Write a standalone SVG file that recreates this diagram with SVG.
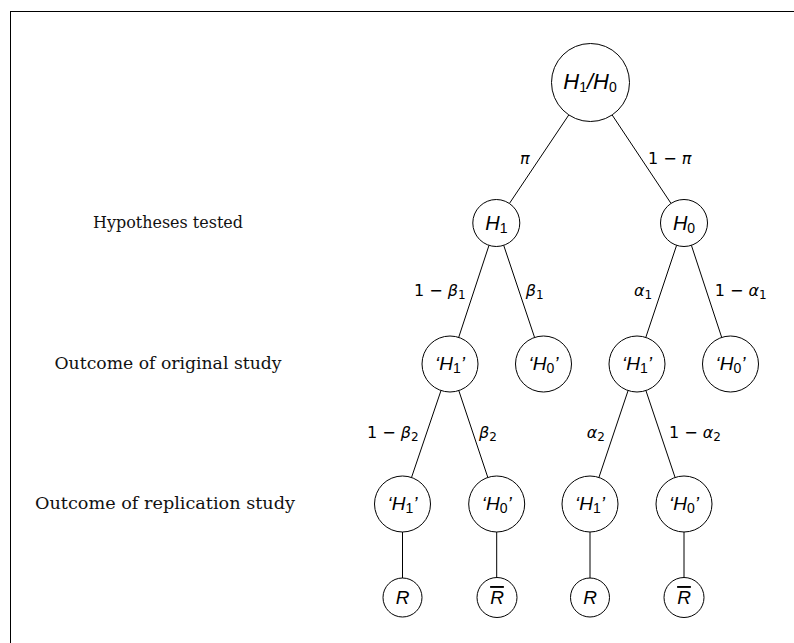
<svg xmlns="http://www.w3.org/2000/svg" width="794" height="643" viewBox="0 0 794 643">
<style>
.node circle{fill:#fff;stroke:#000;stroke-width:1}
.nl{font-family:"Liberation Sans",Arial,sans-serif;font-style:italic;fill:#000;text-anchor:middle}
.sub{font-style:normal;font-size:14px}
.edges line{stroke:#000;stroke-width:1}
.el{font-family:"DejaVu Sans",Verdana,sans-serif;font-size:16px;fill:#000}
.g{font-style:italic}
.es{font-size:12px}
.row{font-family:"DejaVu Serif",Georgia,serif;font-size:17px;fill:#111;text-anchor:middle}
</style>
<rect x="10.5" y="11.5" width="800" height="700" fill="none" stroke="#000" stroke-width="1"/>
<g id="rows">
<text class="row" x="168" y="228" textLength="150" lengthAdjust="spacingAndGlyphs">Hypotheses tested</text>
<text class="row" x="168" y="369" textLength="227" lengthAdjust="spacingAndGlyphs">Outcome of original study</text>
<text class="row" x="165" y="509" textLength="260" lengthAdjust="spacingAndGlyphs">Outcome of replication study</text>
</g>
<g class="edges" id="connectors">
<line x1="568.8" y1="114.9" x2="509.4" y2="203.5"/>
<line x1="612.1" y1="114.9" x2="671" y2="203.4"/>
<line x1="489" y1="245.3" x2="458.7" y2="337.4"/>
<line x1="503.7" y1="245.3" x2="534.6" y2="337.5"/>
<line x1="676.6" y1="245.3" x2="645.8" y2="337.4"/>
<line x1="691.4" y1="245.3" x2="721.7" y2="337.4"/>
<line x1="441" y1="390.5" x2="411.5" y2="477.5"/>
<line x1="458.8" y1="390.6" x2="487.8" y2="477.4"/>
<line x1="628.1" y1="390.5" x2="598.9" y2="477.5"/>
<line x1="645.9" y1="390.5" x2="675.1" y2="477.5"/>
<line x1="402.5" y1="532" x2="402.5" y2="578"/>
<line x1="496.7" y1="532" x2="496.7" y2="577.5"/>
<line x1="590" y1="532" x2="590" y2="578"/>
<line x1="684" y1="532" x2="684" y2="577.5"/>
</g>
<g id="edge-labels">
<text class="el" x="520" y="163.5"><tspan class="g">π</tspan></text>
<text class="el" x="648" y="163.5">1 − <tspan class="g">π</tspan></text>
<text class="el" x="414" y="296">1 − <tspan class="g">β</tspan><tspan class="es" dy="3">1</tspan></text>
<text class="el" x="525.7" y="296"><tspan class="g">β</tspan><tspan class="es" dy="3">1</tspan></text>
<text class="el" x="634" y="296"><tspan class="g">α</tspan><tspan class="es" dy="3">1</tspan></text>
<text class="el" x="714.7" y="296">1 − <tspan class="g">α</tspan><tspan class="es" dy="3">1</tspan></text>
<text class="el" x="367" y="438">1 − <tspan class="g">β</tspan><tspan class="es" dy="3">2</tspan></text>
<text class="el" x="479" y="438"><tspan class="g">β</tspan><tspan class="es" dy="3">2</tspan></text>
<text class="el" x="586.7" y="438"><tspan class="g">α</tspan><tspan class="es" dy="3">2</tspan></text>
<text class="el" x="669" y="438">1 − <tspan class="g">α</tspan><tspan class="es" dy="3">2</tspan></text>
</g>
<g class="node" id="root"><circle cx="590.5" cy="82.5" r="39"/><text class="nl" x="590" y="89" font-size="22">H<tspan class="sub" font-size="15" dy="3">1</tspan><tspan dy="-3">/H</tspan><tspan class="sub" font-size="15" dy="3">0</tspan></text></g>
<g class="node" id="h1"><circle cx="496.3" cy="223" r="23.5"/><text class="nl" x="496.3" y="230" font-size="20">H<tspan class="sub" dy="3">1</tspan></text></g>
<g class="node" id="h0"><circle cx="684" cy="223" r="23.5"/><text class="nl" x="684" y="230" font-size="20">H<tspan class="sub" dy="3">0</tspan></text></g>
<g class="node" id="o1"><circle cx="450" cy="364" r="28"/><text class="nl" x="450" y="370" font-size="19">‘H<tspan class="sub" dy="3">1</tspan><tspan dy="-3">’</tspan></text></g>
<g class="node" id="o2"><circle cx="543.5" cy="364" r="28"/><text class="nl" x="543.5" y="370" font-size="19">‘H<tspan class="sub" dy="3">0</tspan><tspan dy="-3">’</tspan></text></g>
<g class="node" id="o3"><circle cx="637" cy="364" r="28"/><text class="nl" x="637" y="370" font-size="19">‘H<tspan class="sub" dy="3">1</tspan><tspan dy="-3">’</tspan></text></g>
<g class="node" id="o4"><circle cx="730.5" cy="364" r="28"/><text class="nl" x="730.5" y="370" font-size="19">‘H<tspan class="sub" dy="3">0</tspan><tspan dy="-3">’</tspan></text></g>
<g class="node" id="r1"><circle cx="402.5" cy="504" r="28"/><text class="nl" x="402.5" y="510" font-size="19">‘H<tspan class="sub" dy="3">1</tspan><tspan dy="-3">’</tspan></text></g>
<g class="node" id="r2"><circle cx="496.7" cy="504" r="28"/><text class="nl" x="496.7" y="510" font-size="19">‘H<tspan class="sub" dy="3">0</tspan><tspan dy="-3">’</tspan></text></g>
<g class="node" id="r3"><circle cx="590" cy="504" r="28"/><text class="nl" x="590" y="510" font-size="19">‘H<tspan class="sub" dy="3">1</tspan><tspan dy="-3">’</tspan></text></g>
<g class="node" id="r4"><circle cx="684" cy="504" r="28"/><text class="nl" x="684" y="510" font-size="19">‘H<tspan class="sub" dy="3">0</tspan><tspan dy="-3">’</tspan></text></g>
<g class="node" id="d1"><circle cx="402.5" cy="597.5" r="19.5"/><text class="nl" x="402.5" y="604" font-size="19">R</text></g>
<g class="node" id="d2"><circle cx="497" cy="597.5" r="20"/><text class="nl" x="497" y="604" font-size="19" text-decoration="overline">R</text></g>
<g class="node" id="d3"><circle cx="590" cy="597.5" r="19.5"/><text class="nl" x="590" y="604" font-size="19">R</text></g>
<g class="node" id="d4"><circle cx="684" cy="597.5" r="20"/><text class="nl" x="684" y="604" font-size="19" text-decoration="overline">R</text></g>
</svg>
